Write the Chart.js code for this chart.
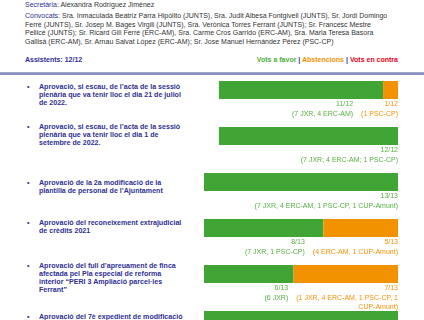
<!DOCTYPE html>
<html>
<head>
    <meta charset="utf-8">
    <title>Votacions del ple</title>
    <script src="https://cdn.jsdelivr.net/npm/chart.js"></script>
    <style>
        body { margin: 0; width: 424px; height: 320px; overflow: hidden; background: #fff;
               font-family: Arial, "Liberation Sans", sans-serif; color: #333; }
        .cap { position: absolute; left: 25px; font-size: 7px; white-space: nowrap; }
        .blau { color: #2e3192; }
        .linia { position: absolute; left: 0; top: 72px; width: 424px; height: 3px;
                 background: linear-gradient(#a3a8d2, #7c84bb); }
        .punt { position: absolute; left: 27px; font-size: 7.1px; line-height: 8px; font-weight: bold;
                color: #2e3192; white-space: nowrap; }
        .punt span { position: absolute; left: 12px; top: 0; }
        #grafica { position: absolute; left: 0; top: 0; }
    </style>
</head>
<body>
    <div class="cap" style="top:1px"><span class="blau">Secretària:</span> Alexandra Rodríguez Jiménez</div>
    <div class="cap" style="top:12px; line-height:8.7px">
        <span class="blau">Convocats:</span> Sra. Inmaculada Beatriz Parra Hipólito (JUNTS), Sra. Judit Albesa Fontgivell (JUNTS), Sr. Jordi Domingo<br>
        Ferré (JUNTS), Sr. Josep M. Bages Virgili (JUNTS), Sra. Verònica Torres Ferrant (JUNTS); Sr. Francesc Mestre<br>
        Pellicé (JUNTS); Sr. Ricard Gili Ferré (ERC-AM), Sra. Carme Cros Garrido (ERC-AM), Sra. Maria Teresa Basora<br>
        Gallisà (ERC-AM), Sr. Arnau Salvat López (ERC-AM); Sr. Jose Manuel Hernández Pérez (PSC-CP)
    </div>
    <div class="cap blau" style="top:56px; font-weight:bold">Assistents: 12/12</div>
    <div class="cap" style="top:56px; left:auto; right:26px; font-weight:bold">
        <span style="color:#4fae3a">Vots a favor</span> <span class="blau">|</span>
        <span style="color:#f39200">Abstencions</span> <span class="blau">|</span>
        <span style="color:#e2001a">Vots en contra</span>
    </div>
    <div class="linia"></div>
    <div id="punts"></div>
    <canvas id="grafica" width="424" height="360"></canvas>
    <script>
        // punts de l'ordre del dia
        const punts = [
            "Aprovació, si escau, de l’acta de la sessió\nplenària que va tenir lloc el dia 21 de juliol\nde 2022.",
            "Aprovació, si escau, de l’acta de la sessió\nplenària que va tenir lloc el dia 1 de\nsetembre de 2022.",
            "Aprovació de la 2a modificació de la\nplantilla de personal de l’Ajuntament",
            "Aprovació del reconeixement extrajudicial\nde crèdits 2021",
            "Aprovació del full d’apreuament de finca\nafectada pel Pla especial de reforma\ninterior “PERI 3 Ampliació parcel·les\nFerrant”",
            "Aprovació del 7è expedient de modificació\nde crèdits"
        ];
        const totals = [12, 12, 13, 13, 13, 13];
        const votsFavor = [11, 12, 13, 8, 6, 13];
        const abstencions = [1, 0, 0, 5, 7, 0];
        const votsContra = [0, 0, 0, 0, 0, 0];
        const partitsFavor = ["(7 JXR, 4 ERC-AM)", "(7 JXR; 4 ERC-AM; 1 PSC-CP)",
            "(7 JXR, 4 ERC-AM, 1 PSC-CP, 1 CUP-Amunt)", "(7 JXR, 1 PSC-CP)", "(6 JXR)", ""];
        const partitsAbst = ["(1 PSC-CP)", "", "", "(4 ERC-AM, 1 CUP-Amunt)",
            "(1 JXR, 4 ERC-AM, 1 PSC-CP, 1 CUP-Amunt)", ""];

        const VERD = '#40a535', TARONJA = '#f39200', VERMELL = '#e2001a';
        const VERD_TEXT = '#55b040';

        // on comença el text de cada punt (px)
        const topsPunts = [83, 123, 179, 219, 262, 313];
        const cont = document.getElementById('punts');
        punts.forEach((p, i) => {
            const d = document.createElement('div');
            d.className = 'punt';
            d.style.top = topsPunts[i] + 'px';
            d.innerHTML = '•<span>' + p.replace(/\n/g, '<br>') + '</span>';
            cont.appendChild(d);
        });

        function partir(ctx, text, maxW) {
            if (!text) return [];
            const paraules = text.split(' ');
            const linies = [];
            let act = '';
            paraules.forEach(w => {
                const prova = act ? act + ' ' + w : w;
                if (ctx.measureText(prova).width > maxW && act) {
                    linies.push(act);
                    act = w;
                } else act = prova;
            });
            if (act) linies.push(act);
            return linies;
        }

        const etiquetes = {
            id: 'etiquetes',
            afterDatasetsDraw(chart) {
                const ctx = chart.ctx;
                const dreta = chart.chartArea.right;
                const metaF = chart.getDatasetMeta(1);
                ctx.save();
                ctx.font = '7px Arial, "Liberation Sans", sans-serif';
                ctx.textAlign = 'right';
                ctx.textBaseline = 'middle';
                punts.forEach((p, i) => {
                    const el = metaF.data[i];
                    const baix = el.y + el.height / 2;
                    let ampleAbst = 0;
                    if (abstencions[i] > 0) {
                        const linies = [abstencions[i] + '/' + totals[i]].concat(partir(ctx, partitsAbst[i], 106));
                        ctx.fillStyle = TARONJA;
                        linies.forEach((l, k) => {
                            ampleAbst = Math.max(ampleAbst, ctx.measureText(l).width);
                            ctx.fillText(l, dreta, baix + 5.5 + k * 9.5);
                        });
                    }
                    const x = ampleAbst ? dreta - ampleAbst - 8 : dreta;
                    const liniesF = [votsFavor[i] + '/' + totals[i]].concat(partitsFavor[i] ? [partitsFavor[i]] : []);
                    ctx.fillStyle = VERD_TEXT;
                    liniesF.forEach((l, k) => ctx.fillText(l, x, baix + 5.5 + k * 9.5));
                });
                ctx.restore();
            }
        };

        new Chart(document.getElementById('grafica'), {
            type: 'bar',
            data: {
                labels: punts,
                datasets: [
                    { label: 'Abstencions', data: abstencions, backgroundColor: TARONJA },
                    { label: 'Vots a favor', data: votsFavor, backgroundColor: VERD },
                    { label: 'Vots en contra', data: votsContra, backgroundColor: VERMELL, inflateAmount: 0 }
                ]
            },
            options: {
                indexAxis: 'y',
                responsive: false,
                animation: false,
                barThickness: 18,
                layout: { padding: { left: 204, right: 26, top: 67, bottom: 17 } },
                datasets: { bar: { inflateAmount: 0 } },
                scales: {
                    x: { stacked: true, reverse: true, min: 0, max: 13, display: false },
                    y: { stacked: true, display: false }
                },
                plugins: { legend: { display: false }, tooltip: { enabled: false } }
            },
            plugins: [etiquetes]
        });
    </script>
</body>
</html>
